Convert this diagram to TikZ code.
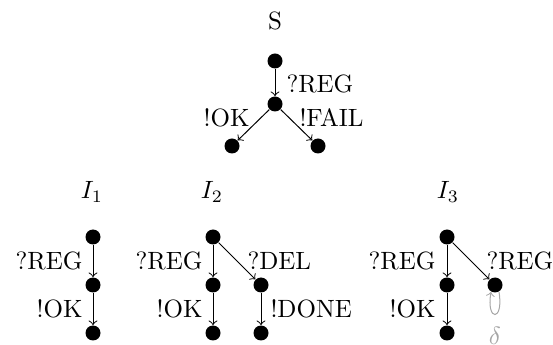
\documentclass[tikz,border=0pt]{standalone}
\begin{document}
\begin{tikzpicture}[x=0.4pt,y=-0.4pt,
  st/.style={circle,fill=black,minimum size=6pt,inner sep=0pt},
  tr/.style={->},
  lbl/.style={inner sep=0pt},
  loopc/.style={gray!70}]
\useasboundingbox (0,0) rectangle (553,345);
% S
\node[lbl,anchor=base] (tS) at (275,29.5) {S};
\node[st] (s0) at (275,61) {};
\node[st] (s1) at (275,104) {};
\node[st] (s2) at (232,146) {};
\node[st] (s3) at (318,146) {};
\draw[tr] (s0) -- (s1);
\draw[tr] (s1) -- (s2);
\draw[tr] (s1) -- (s3);
\node[lbl,anchor=base west] (ls1) at (286,93) {?REG};
\node[lbl,anchor=base east] (ls2) at (250,127) {!OK};
\node[lbl,anchor=base west] (ls3) at (299,127) {!FAIL};
% I1
\node[lbl,anchor=base] (tI1) at (92,199) {$I_1$};
\node[st] (a0) at (93,237) {};
\node[st] (a1) at (93,285) {};
\node[st] (a2) at (93,333) {};
\draw[tr] (a0) -- (a1);
\draw[tr] (a1) -- (a2);
\node[lbl,anchor=base east] (la1) at (83,270) {?REG};
\node[lbl,anchor=base east] (la2) at (83,318) {!OK};
% I2
\node[lbl,anchor=base] (tI2) at (212,199) {$I_2$};
\node[st] (b0) at (213,237) {};
\node[st] (b1) at (213,285) {};
\node[st] (b2) at (213,333) {};
\node[st] (b3) at (261,285) {};
\node[st] (b4) at (261,333) {};
\draw[tr] (b0) -- (b1);
\draw[tr] (b1) -- (b2);
\draw[tr] (b0) -- (b3);
\draw[tr] (b3) -- (b4);
\node[lbl,anchor=base east] (lb1) at (203,270) {?REG};
\node[lbl,anchor=base east] (lb2) at (203,318) {!OK};
\node[lbl,anchor=base west] (lb3) at (247,270) {?DEL};
\node[lbl,anchor=base west] (lb4) at (270,318) {!DONE};
% I3
\node[lbl,anchor=base] (tI3) at (448,199) {$I_3$};
\node[st] (c0) at (447,237) {};
\node[st] (c1) at (447,285) {};
\node[st] (c2) at (447,333) {};
\node[st] (c3) at (495,285) {};
\draw[tr] (c0) -- (c1);
\draw[tr] (c1) -- (c2);
\draw[tr] (c0) -- (c3);
\draw[tr,loopc] (c3.-60) .. controls +(5,30) and +(-5,30) .. (c3.-120);
\node[lbl,anchor=base east] (lc1) at (436,270) {?REG};
\node[lbl,anchor=base east] (lc2) at (436,318) {!OK};
\node[lbl,anchor=base west] (lc3) at (486,270) {?REG};
\node[lbl,anchor=base,text=gray!70] (lc4) at (495,345) {$\delta$};
\end{tikzpicture}
\end{document}
